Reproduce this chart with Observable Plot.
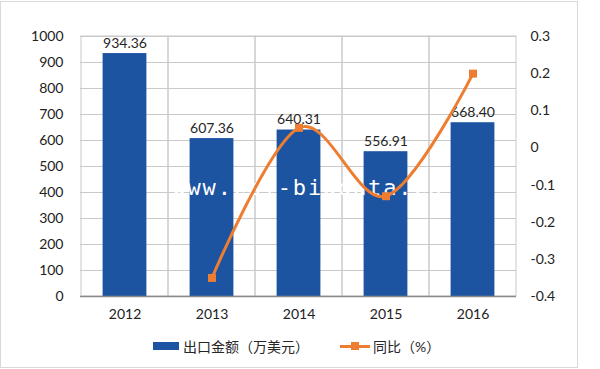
<!DOCTYPE html>
<html>
<head>
<meta charset="utf-8">
<script src="https://cdn.jsdelivr.net/npm/d3@7"></script>
<script src="https://cdn.jsdelivr.net/npm/@observablehq/plot@0.6"></script>
<style>
  html, body { margin: 0; padding: 0; background: #fff; }
  #wrap { position: relative; width: 600px; height: 369px; font-family: Lato, "Noto Sans CJK SC", sans-serif; }
  #frame { position: absolute; left: 0; top: 1px; width: 578px; height: 367px; box-sizing: border-box; border: 1px solid #d9d9d9; pointer-events: none; }
  #legend { position: absolute; top: 336px; left: 153px; display: flex; align-items: center; font-size: 14px; color: #262626; white-space: nowrap; }
  .sw-bar { width: 26px; height: 8px; background: #1C54A1; margin-right: 4px; }
  .sw-line { position: relative; width: 30px; height: 3px; background: #ED7D31; margin-left: 31px; margin-right: 3px; }
  .sw-line::after { content: ""; position: absolute; left: 11px; top: -2.5px; width: 8px; height: 8px; background: #ED7D31; }
</style>
</head>
<body>
<div id="wrap">
  <div id="chart"></div>
  <div id="frame"></div>
  <div id="legend"></div>
</div>
<script>
// Data
const years = ["2012", "2013", "2014", "2015", "2016"];
const exportValues = [934.36, 607.36, 640.31, 556.91, 668.40];   // 出口金额（万美元）
const yoyYears = ["2013", "2014", "2015", "2016"];
const yoyValues = [-0.35, 0.054, -0.13, 0.20];                     // 同比（%）
const leftTicks = [0, 100, 200, 300, 400, 500, 600, 700, 800, 900, 1000];
const rightTicks = [-0.4, -0.3, -0.2, -0.1, 0, 0.1, 0.2, 0.3];
const seriesNames = ["出口金额（万美元）", "同比（%）"];
const watermark = "www.cbi-bigdata.cn";

const leftMax = 1000, rightMin = -0.4, rightMax = 0.3;
const toLeft = p => (p - rightMin) / (rightMax - rightMin) * leftMax;
const fromLeft = v => v / leftMax * (rightMax - rightMin) + rightMin;

const bars = years.map((y, i) => ({year: y, value: exportValues[i]}));
const yoy = yoyYears.map((y, i) => ({year: y, pct: yoyValues[i]}));

const chart = Plot.plot({
  width: 600,
  height: 369,
  marginLeft: 80,
  marginRight: 84,
  marginTop: 36,
  marginBottom: 73,
  style: {fontFamily: 'Lato, "Noto Sans CJK SC", sans-serif', fontSize: "14px", color: "#222", background: "transparent"},
  x: {domain: years, padding: 0, label: null},
  y: {domain: [0, leftMax], label: null},
  marks: [
    Plot.ruleY(leftTicks, {stroke: "#c9c9c9", strokeWidth: 1}),
    Plot.cell(years, {x: d => d, fill: "none", stroke: "#c9c9c9", strokeWidth: 1}),
    Plot.barY(bars, {x: "year", y: "value", fill: "#1C54A1", insetLeft: 21.6, insetRight: 21.6}),
    Plot.ruleY([0], {stroke: "#8a8a8a", strokeWidth: 1.3}),
    Plot.text([watermark], {frameAnchor: "left", dx: 92, dy: 21, textAnchor: "start", fill: "#fff",
      fontFamily: "DejaVu Sans Mono", fontSize: 22}),
    Plot.text(bars, {x: "year", y: "value", text: d => d.value.toFixed(2), dy: -6, lineAnchor: "bottom", fill: "#262626", fontSize: 14}),
    Plot.line(yoy, {x: "year", y: d => toLeft(d.pct), stroke: "#ED7D31", strokeWidth: 3, curve: "cardinal"}),
    Plot.dot(yoy, {x: "year", y: d => toLeft(d.pct), symbol: "square", r: 4.5, fill: "#ED7D31", stroke: "none"}),
    Plot.axisY(leftTicks, {anchor: "left", tickSize: 0, tickPadding: 17, tickFormat: d => String(d), fontSize: 14, label: null}),
    Plot.axisY(rightTicks.map(toLeft), {anchor: "right", tickSize: 0, tickPadding: 14,
      tickFormat: v => String(Math.round(fromLeft(v) * 10) / 10), fontSize: 14, label: null}),
    Plot.axisX(years, {anchor: "bottom", tickSize: 0, tickPadding: 13, fontSize: 14, label: null})
  ]
});
d3.select(chart).selectAll("text")
  .filter(function () { return this.textContent === watermark; })
  .style("letter-spacing", "1.8px");
document.getElementById("chart").appendChild(chart);

const legend = document.getElementById("legend");
legend.innerHTML =
  `<span class="sw-bar"></span><span>${seriesNames[0]}</span>` +
  `<span class="sw-line"></span><span>${seriesNames[1]}</span>`;
</script>
</body>
</html>
